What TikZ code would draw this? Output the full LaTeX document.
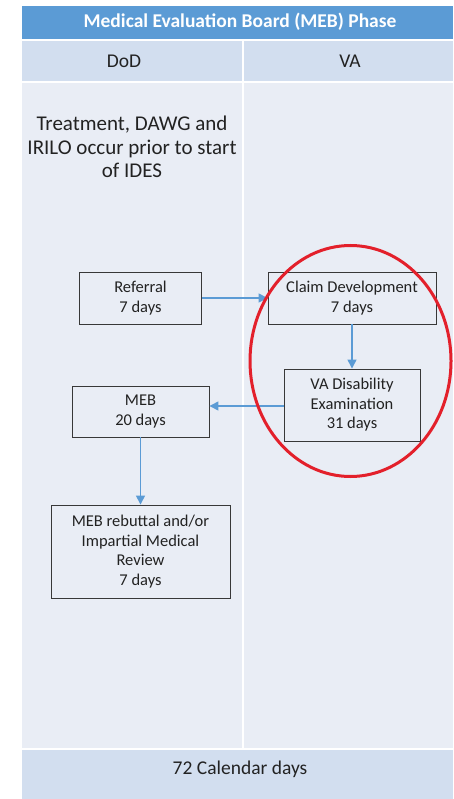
\documentclass[tikz,border=0pt]{standalone}
\usepackage{fontspec}
\setmainfont{Carlito}
\usetikzlibrary{arrows.meta}
\definecolor{hdrblue}{HTML}{5B9BD5}
\definecolor{rowband}{HTML}{D2DEEF}
\definecolor{rowlight}{HTML}{E9EDF5}
\definecolor{flowblue}{HTML}{5B9BD5}
\definecolor{txtgray}{HTML}{222222}
\definecolor{markred}{HTML}{E3202B}
\begin{document}
\begin{tikzpicture}[x=1pt,y=-1pt,
  stagebox/.style={draw=txtgray!90,line width=0.9pt,fill=rowlight,text=txtgray,
    align=center,font=\fontsize{16.5}{19.5}\selectfont,inner sep=0pt},
  flow/.style={draw=flowblue,line width=1.4pt,-{Triangle[length=9pt,width=9pt]}},
  celltext/.style={text=txtgray,align=center}]
\useasboundingbox (0,0) rectangle (453,799);
\fill[white] (0,0) rectangle (453,799);
% table bands
\fill[hdrblue] (22,6) rectangle (453,39);
\fill[rowband] (22,41) rectangle (242,81);
\fill[rowband] (244,41) rectangle (453,81);
\fill[rowlight] (22,83) rectangle (242,748);
\fill[rowlight] (244,83) rectangle (453,748);
\fill[rowband] (22,750) rectangle (453,799);
% table texts
\node[text=white,font=\fontsize{19.5}{23}\selectfont\bfseries] (title) at (240,22) {Medical Evaluation Board (MEB) Phase};
\node[celltext,font=\fontsize{19.5}{23}\selectfont] (dod) at (124,61) {DoD};
\node[celltext,font=\fontsize{19.5}{23}\selectfont] (va) at (350,61) {VA};
\node[celltext,font=\fontsize{21}{23.5}\selectfont] (pre) at (132,147) {Treatment, DAWG and\\IRILO occur prior to start\\of IDES};
\node[celltext,font=\fontsize{19.5}{23}\selectfont] (total) at (240,769) {72 Calendar days};
% process boxes
\node[stagebox,minimum width=122pt,minimum height=52pt] (ref) at (140.5,298) {Referral\\7 days};
\node[stagebox,minimum width=168pt,minimum height=52pt] (claim) at (352,298) {Claim Development\\7 days};
\node[stagebox,minimum width=136pt,minimum height=72pt] (exam) at (352,405) {VA Disability\\Examination\\31 days};
\node[stagebox,minimum width=137pt,minimum height=51pt] (meb) at (140.5,411.5) {MEB\\20 days};
\node[stagebox,minimum width=179pt,minimum height=93pt] (reb) at (140.5,551.5) {MEB rebuttal and/or\\Impartial Medical\\Review\\7 days};
% connectors
\draw[flow] (ref.east) -- (claim.west);
\draw[flow] (claim.south) -- (exam.north);
\draw[flow] (exam.west |- 0,406) -- (meb.east |- 0,406);
\draw[flow] (meb.south) -- (reb.north);
% red marking
\draw[markred,line width=3pt] (350.5,361) ellipse [x radius=100.5pt,y radius=115.5pt];
\end{tikzpicture}
\end{document}
